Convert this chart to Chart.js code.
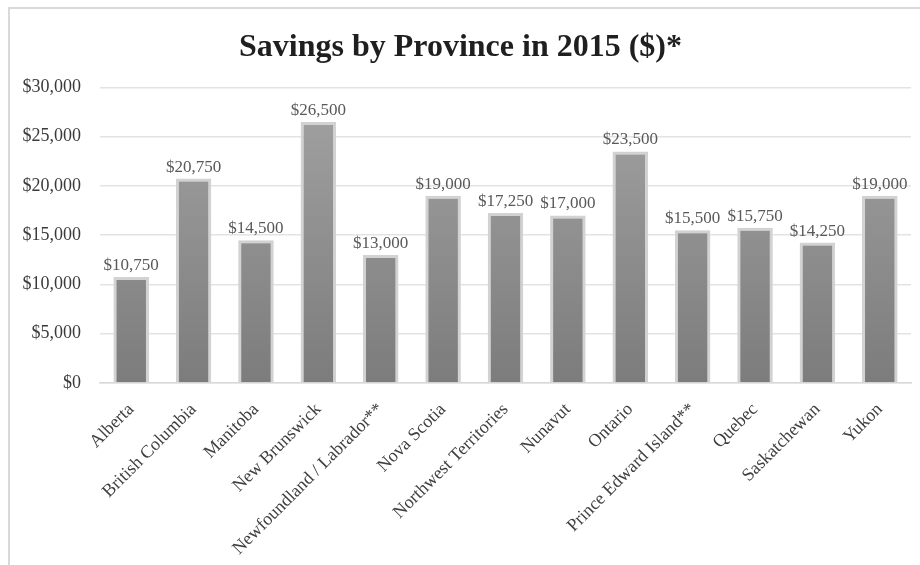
<!DOCTYPE html>
<html>
<head>
<meta charset="utf-8">
<script src="https://cdn.jsdelivr.net/npm/chart.js@4/dist/chart.umd.min.js"></script>
<style>
  html, body { margin: 0; padding: 0; background: #ffffff; }
  #wrap { position: relative; width: 920px; height: 565px; }
</style>
</head>
<body>
<div id="wrap"><canvas id="c" width="920" height="565"></canvas></div>
<script>
const categories = ["Alberta", "British Columbia", "Manitoba", "New Brunswick", "Newfoundland / Labrador**", "Nova Scotia", "Northwest Territories", "Nunavut", "Ontario", "Prince Edward Island**", "Quebec", "Saskatchewan", "Yukon"];
const savings = [10750, 20750, 14500, 26500, 13000, 19000, 17250, 17000, 23500, 15500, 15750, 14250, 19000];
const titleText = "Savings by Province in 2015 ($)*";
const yMin = 0, yMax = 30000, yStep = 5000;

const SERIF = "'Liberation Serif', 'Times New Roman', serif";
const fmt = v => '$' + Number(v).toLocaleString('en-US');

const framePlugin = {
  id: 'frame',
  beforeDraw(chart) {
    const ctx = chart.ctx;
    ctx.save();
    ctx.fillStyle = '#ffffff';
    ctx.fillRect(0, 0, chart.width, chart.height);
    ctx.strokeStyle = '#d9d9d9';
    ctx.lineWidth = 2;
    ctx.beginPath();
    ctx.moveTo(9, chart.height);
    ctx.lineTo(9, 8);
    ctx.lineTo(chart.width, 8);
    ctx.stroke();
    ctx.restore();
  }
};

const labelPlugin = {
  id: 'valueLabels',
  afterDatasetsDraw(chart) {
    const ctx = chart.ctx;
    const meta = chart.getDatasetMeta(0);
    ctx.save();
    ctx.font = '17px ' + SERIF;
    ctx.fillStyle = '#595959';
    ctx.textAlign = 'center';
    ctx.textBaseline = 'alphabetic';
    meta.data.forEach((bar, i) => {
      ctx.fillText(fmt(savings[i]), bar.x, bar.y - 7);
    });
    ctx.restore();
  }
};

new Chart(document.getElementById('c'), {
  type: 'bar',
  data: {
    labels: categories,
    datasets: [{
      data: savings,
      backgroundColor(context) {
        const chart = context.chart;
        const area = chart.chartArea;
        if (!area) return '#8c8c8c';
        const g = chart.ctx.createLinearGradient(0, area.top, 0, area.bottom);
        g.addColorStop(0, '#a3a3a3');
        g.addColorStop(1, '#7c7c7c');
        return g;
      },
      borderColor: '#d2d2d2',
      borderWidth: 3,
      borderSkipped: 'bottom',
      categoryPercentage: 1,
      barPercentage: 0.57
    }]
  },
  options: {
    responsive: false,
    animation: false,
    layout: { padding: { left: 10, right: 9, top: 8, bottom: 0 } },
    plugins: {
      legend: { display: false },
      tooltip: { enabled: false },
      title: {
        display: true,
        text: titleText,
        color: '#1f1f1f',
        font: { family: SERIF, size: 32, weight: 'bold', lineHeight: 1.2 },
        padding: { top: 21, bottom: 20 }
      }
    },
    scales: {
      x: {
        grid: { display: false, drawTicks: false },
        border: { display: true, color: '#d9d9d9', width: 1.5 },
        ticks: {
          color: '#404040',
          font: { family: SERIF, size: 18 },
          minRotation: 45,
          maxRotation: 45,
          autoSkip: false,
          padding: 16
        },
        afterFit(scale) { scale.height = 182; }
      },
      y: {
        min: yMin,
        max: yMax,
        grid: { color: '#e3e3e3', lineWidth: 1.5, drawTicks: false },
        border: { display: false },
        ticks: {
          stepSize: yStep,
          color: '#3a3a3a',
          font: { family: SERIF, size: 18 },
          padding: 19,
          callback: v => fmt(v)
        },
        afterFit(scale) { scale.width = 90; }
      }
    }
  },
  plugins: [framePlugin, labelPlugin]
});
</script>
</body>
</html>
